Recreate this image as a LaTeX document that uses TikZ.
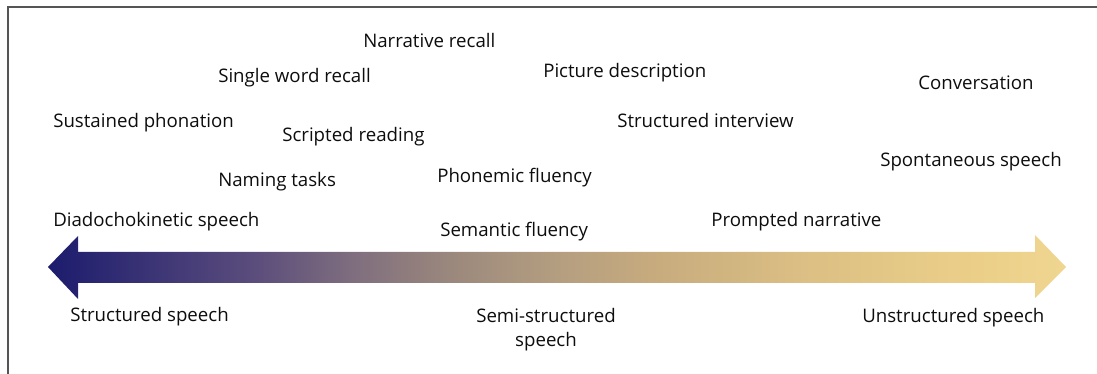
\documentclass[tikz,border=0pt]{standalone}
\usepackage{fontspec}
\setmainfont{Open Sans}
\usepackage{tikz}

\definecolor{band0}{HTML}{1C1C6E}
\definecolor{band1}{HTML}{5A4C7C}
\definecolor{band2}{HTML}{7F6E7E}
\definecolor{band3}{HTML}{9C897D}
\definecolor{band4}{HTML}{B49E80}
\definecolor{band5}{HTML}{C8AC7E}
\definecolor{band6}{HTML}{DCC084}
\definecolor{band7}{HTML}{EACE88}
\definecolor{band8}{HTML}{EFD690}
\definecolor{framegray}{HTML}{555555}

\pgfdeclarehorizontalshading{speechband}{100bp}{color(0bp)=(band0); color(25bp)=(band0);
  color(35bp)=(band1); color(40bp)=(band2); color(45bp)=(band3); color(50bp)=(band4);
  color(55bp)=(band5); color(62.5bp)=(band6); color(70bp)=(band7); color(75bp)=(band8);
  color(100bp)=(band8)}

\begin{document}
\begin{tikzpicture}[x=0.75pt, y=-0.75pt,
  task/.style={anchor=base west, inner sep=0pt, text=black!95, font=\fontsize{14pt}{18pt}\selectfont},
  kind/.style={task}]

\useasboundingbox (0,0) rectangle (1097,374);
\draw[framegray, line width=0.9pt] (8,374) -- (8,7) -- (1097,7);

% the continuum
\path[shading=speechband] (48,267) -- (78,236) -- (78,252) -- (1035,252) -- (1035,235)
  -- (1066,267) -- (1035,298) -- (1035,283) -- (78,283) -- (78,299) -- cycle;

% speech tasks
\node[task] (narrative) at (363,48) {Narrative recall};
\node[task] (singleword) at (218,83) {Single word recall};
\node[task] (picture) at (543,78) {Picture description};
\node[task] (conversation) at (918,90) {Conversation};
\node[task] (sustained) at (53,128) {Sustained phonation};
\node[task] (scripted) at (282,142) {Scripted reading};
\node[task] (interview) at (617,128) {Structured interview};
\node[task] (spontaneous) at (880,167) {Spontaneous speech};
\node[task] (naming) at (218,187) {Naming tasks};
\node[task] (phonemic) at (437,183) {Phonemic fluency};
\node[task] (ddk) at (53,227) {Diadochokinetic speech};
\node[task] (semantic) at (440,237) {Semantic fluency};
\node[task] (prompted) at (711,227) {Prompted narrative};

% speech types
\node[kind] (structured) at (70,321) {Structured speech};
\node[kind, anchor=north, align=center] (semi) at (546,308) {Semi-structured\\speech};
\node[kind] (unstructured) at (862,322) {Unstructured speech};

\end{tikzpicture}
\end{document}
